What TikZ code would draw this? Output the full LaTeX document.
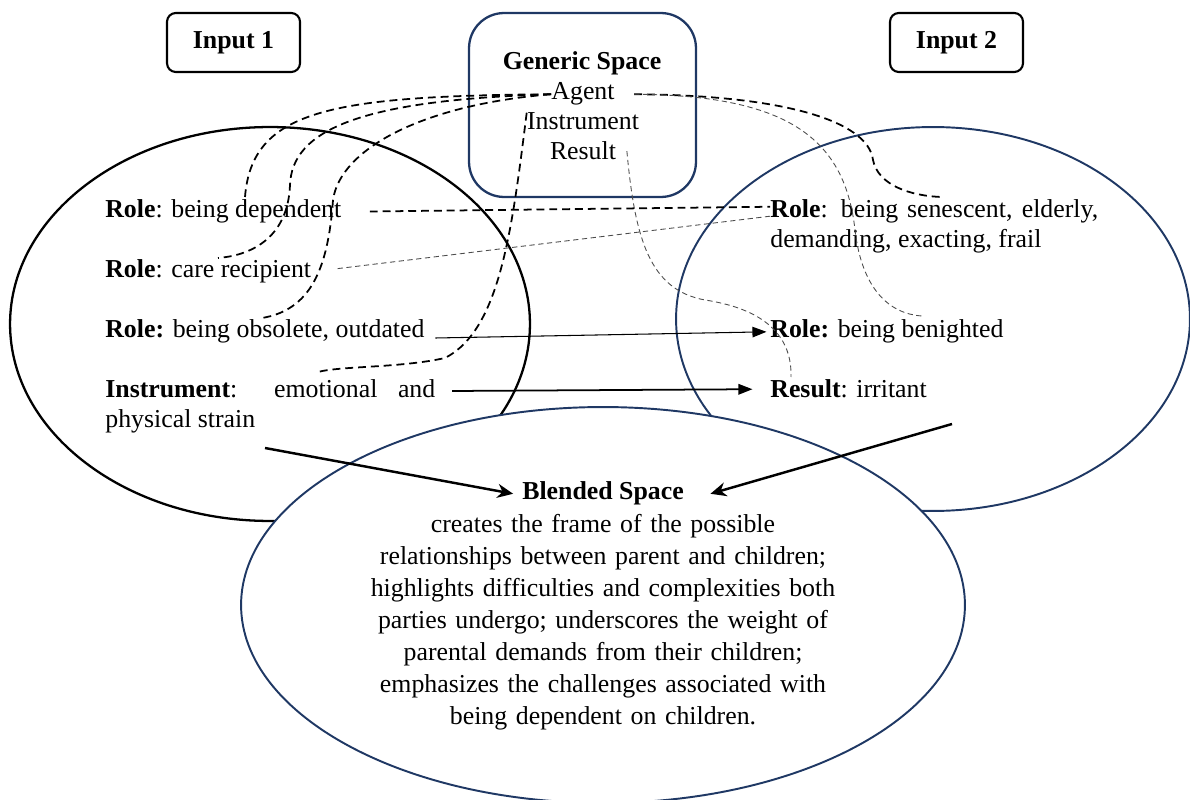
\documentclass[tikz,border=0pt]{standalone}
\usepackage{fontspec}
\setmainfont{Liberation Serif}
\usetikzlibrary{arrows.meta}

\definecolor{navy}{HTML}{1F3864}

\begin{document}
\begin{tikzpicture}[x=0.02cm,y=-0.02cm,
    every node/.style={font=\fontsize{14.7}{17}\selectfont},
    txt/.style={inner sep=0pt,anchor=base west},
    inbox/.style={draw,line width=1.2pt,rounded corners=5pt,minimum width=2.66cm,minimum height=1.18cm,font=\bfseries\fontsize{14.7}{17}\selectfont},
    dashline/.style={line width=1pt,dash pattern=on 4.5pt off 2.8pt},
    thindash/.style={line width=0.5pt,black!70,dash pattern=on 3pt off 2pt},
    bigarrow/.style={line width=1.4pt,-{Stealth[length=9pt,width=8pt]}},
    smallarrow/.style={line width=0.6pt,-{Triangle[length=8pt,width=6pt]}},
    midarrow/.style={line width=1pt,-{Triangle[length=8pt,width=6pt]}}]
        \useasboundingbox (0,0) rectangle (1190,800);

        \draw[line width=1.3pt] (270,324) ellipse [x radius=5.2cm, y radius=3.94cm];
        \draw[navy,line width=1.1pt] (933,319) ellipse [x radius=5.14cm, y radius=3.84cm];
        \draw[navy,line width=1.1pt,fill=white] (603,605) ellipse [x radius=7.24cm, y radius=3.96cm];

        \node[inbox] (input1) at (233.5,42.5) {Input 1};
        \node[inbox] (input2) at (956.5,42.5) {Input 2};
        \node[draw=navy,line width=1.3pt,rounded corners=20pt,minimum width=4.54cm,minimum height=3.68cm] (generic) at (582.5,105) {};

        \node[txt,anchor=base] (gtitle) at (582,70) {\textbf{Generic Space}};
        \node[txt,anchor=base] (agent) at (583,100) {Agent};
        \node[txt,anchor=base] (ginstr) at (583,130) {Instrument};
        \node[txt,anchor=base] (gresult) at (583,160) {Result};

        % input 1
        \node[txt] (dependent) at (105,218) {\textbf{Role}: being dependent};
        \node[txt] (recipient) at (105,278) {\textbf{Role}: care recipient};
        \node[txt] (obsolete) at (105,338) {\textbf{Role:} being obsolete, outdated};
        \node[txt,text width=6.6cm,align=justify] (strain) at (105,398) {\textbf{Instrument}: emotional and\linebreak physical strain};

        % input 2
        \node[txt,text width=6.56cm,align=justify] (senescent) at (770,218) {\textbf{Role}: being senescent, elderly,\linebreak demanding, exacting, frail};
        \node[txt] (benighted) at (770,338) {\textbf{Role:} being benighted};
        \node[txt] (irritant) at (770,398) {\textbf{Result}: irritant};

        % blend
        \node[txt,anchor=base] (blendtitle) at (603,500) {\textbf{Blended Space}};
        \node[txt,anchor=base,text width=10cm,align=center,font=\fontsize{14.7}{18.3}\selectfont] (blendbody) at (603,532) {creates the frame of the possible\\relationships between parent and children;\\highlights difficulties and complexities both\\parties undergo; underscores the weight of\\parental demands from their children;\\emphasizes the challenges associated with\\being dependent on children.};

        \coordinate (endA) at (245,197);
        \coordinate (endB) at (218,258);
        \coordinate (endC) at (262,318);
        \coordinate (endD) at (318,372);
        \coordinate (endE) at (942,197);
        \coordinate (endF) at (922,316);
        \coordinate (endG) at (791,377);
        \coordinate (strainout) at (452,391);
        \coordinate (left1) at (265,448);
        \coordinate (right1) at (952,424);

        \draw[dashline] (agent.west) .. controls (330,96) and (252,110) .. (endA);
        \draw[dashline] (agent.west) .. controls (360,100) and (292,130) .. (290,185) .. controls (288,235) and (255,255) .. (endB);
        \draw[dashline] (agent.west) .. controls (420,105) and (340,150) .. (333,200) .. controls (328,270) and (310,310) .. (endC);
        \draw[dashline] (ginstr.north west) .. controls (512,230) and (500,330) .. (445,358) .. controls (400,368) and (340,366) .. (endD);
        \draw[dashline] ([xshift=11pt]agent.east) .. controls (780,95) and (868,120) .. (873,160) .. controls (878,185) and (910,196) .. (endE);
        \draw[thindash] ([xshift=11pt]agent.east) .. controls (790,95) and (845,140) .. (855,230) .. controls (862,290) and (890,314) .. (endF);
        \draw[thindash] ([xshift=6pt]gresult.east) .. controls (635,240) and (650,290) .. (705,300) .. controls (770,310) and (792,340) .. (endG);

        \draw[dashline,shorten <=16pt] (dependent.east) -- ([yshift=-4pt]senescent.north west);
        \draw[thindash,shorten <=15pt] (recipient.east) -- ([yshift=6pt]senescent.west);

        \draw[smallarrow] ([xshift=6pt]obsolete.base east) -- ([xshift=-2pt]benighted.west);
        \draw[midarrow] (strainout) -- ([xshift=-10pt]irritant.west);
        \draw[bigarrow] (left1) -- ([xshift=-5pt]blendtitle.west);
        \draw[bigarrow] (right1) -- ([xshift=15pt]blendtitle.east);
\end{tikzpicture}
\end{document}
